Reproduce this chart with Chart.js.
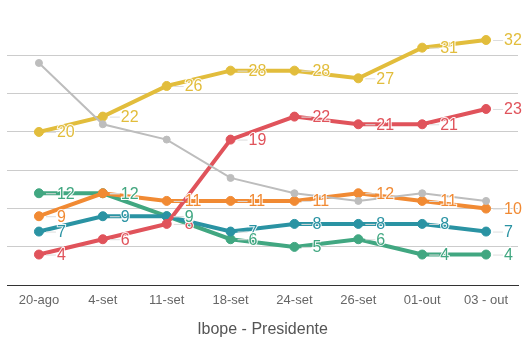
<!DOCTYPE html>
<html>
<head>
<meta charset="utf-8">
<script src="https://cdn.jsdelivr.net/npm/chart.js@4/dist/chart.umd.min.js"></script>
<style>
html,body{margin:0;padding:0;background:#fff;}
#wrap{width:524px;height:352px;position:relative;}
</style>
</head>
<body>
<div id="wrap"><canvas id="c" width="524" height="352"></canvas></div>
<script>
const categories = ['20-ago','4-set','11-set','18-set','24-set','26-set','01-out','03 - out'];
const yellowValues = [20, 22, 26, 28, 28, 27, 31, 32];
const redValues    = [4, 6, 8, 19, 22, 21, 21, 23];
const orangeValues = [9, 12, 11, 11, 11, 12, 11, 10];
const tealValues   = [7, 9, 9, 7, 8, 8, 8, 7];
const greenValues  = [12, 12, 9, 6, 5, 6, 4, 4];
const grayValues   = [29, 21, 19, 14, 12, 11, 12, 11];
const chartTitle = 'Ibope - Presidente';

function series(data, color, width, radius, labels) {
  return {
    data: data,
    borderColor: color,
    backgroundColor: color,
    pointBackgroundColor: color,
    pointBorderColor: color,
    borderWidth: width,
    pointBorderWidth: 1,
    pointRadius: radius,
    pointHoverRadius: radius,
    tension: 0,
    showLabels: labels
  };
}

const labelPlugin = {
  id: 'pointLabels',
  afterDatasetsDraw(chart) {
    const ctx = chart.ctx;
    ctx.save();
    ctx.font = '16px "Liberation Sans", Arial, sans-serif';
    ctx.textBaseline = 'middle';
    ctx.textAlign = 'left';
    chart.data.datasets.forEach((ds, i) => {
      if (!ds.showLabels) return;
      const meta = chart.getDatasetMeta(i);
      meta.data.forEach((pt, j) => {
        const x = pt.x, y = pt.y;
        ctx.strokeStyle = '#dddddd';
        ctx.lineWidth = 1;
        ctx.beginPath();
        ctx.moveTo(x + 7, y + 0.5);
        ctx.lineTo(x + 17, y + 0.5);
        ctx.stroke();
        const t = String(ds.data[j]);
        ctx.lineWidth = 2;
        ctx.strokeStyle = 'rgba(255,255,255,0.9)';
        ctx.strokeText(t, x + 18, y + 1);
        ctx.fillStyle = ds.borderColor;
        ctx.fillText(t, x + 18, y + 1);
      });
    });
    ctx.restore();
  }
};

new Chart(document.getElementById('c'), {
  type: 'line',
  data: {
    labels: categories,
    datasets: [
      series(grayValues, '#bdbdbd', 2, 3.5, false),
      series(yellowValues, '#e2bd3c', 4, 4.5, true),
      series(redValues, '#e0535b', 4, 4.5, true),
      series(orangeValues, '#f18a33', 4, 4.5, true),
      series(tealValues, '#2a93a3', 4, 4.5, true),
      series(greenValues, '#41a781', 4, 4.5, true)
    ]
  },
  options: {
    responsive: false,
    animation: false,
    events: [],
    layout: { padding: { left: 7, right: 6, top: 17, bottom: 13 } },
    plugins: {
      legend: { display: false },
      tooltip: { enabled: false },
      title: { display: false }
    },
    scales: {
      x: {
        offset: true,
        grid: { display: false, drawTicks: false },
        border: { display: true, color: '#333333', width: 1 },
        ticks: { color: '#666666', font: { size: 13, family: '"Liberation Sans", Arial, sans-serif' }, padding: 7 },
        title: { display: true, text: chartTitle, color: '#555555', font: { size: 16, family: '"Liberation Sans", Arial, sans-serif' }, padding: { top: 5, bottom: 0 } }
      },
      y: {
        min: 0,
        max: 35,
        ticks: { display: false, stepSize: 5 },
        grid: {
          color: (c) => (c.tick && c.tick.value === 35) ? 'rgba(0,0,0,0)' : '#cccccc',
          drawTicks: false,
          lineWidth: 1
        },
        border: { display: false }
      }
    }
  },
  plugins: [labelPlugin]
});
</script>
</body>
</html>
